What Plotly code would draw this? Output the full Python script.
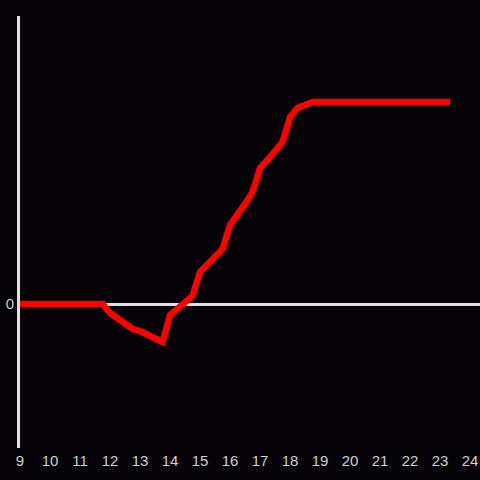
import plotly.graph_objects as go

hours = [9.0, 11.75, 12.0, 12.25, 12.5, 12.75, 13.0, 13.25, 13.5, 13.75, 14.0, 14.25, 14.5, 14.75,
         15.0, 15.25, 15.5, 15.75, 16.0, 16.25, 16.5, 16.75, 17.0, 17.25, 17.5, 17.75,
         18.0, 18.25, 18.5, 18.75, 23.33]
values = [0, 0, -9, -14.5, -20, -25, -27, -31, -34.5, -38, -11, -4.5, 2, 8,
          32, 39, 47, 55, 79, 89, 100, 112, 136, 144, 153, 162,
          187, 196, 199, 202, 202]
x_ticks = list(range(9, 25))

fig = go.Figure()
fig.add_trace(go.Scatter(x=hours, y=values, mode="lines",
                         line=dict(color="#ff0000", width=6.5), hoverinfo="skip"))

bg = "#050307"
fig.update_layout(
    width=480, height=480,
    margin=dict(l=20, r=0, t=16, b=32),
    paper_bgcolor=bg, plot_bgcolor=bg,
    showlegend=False,
    font=dict(family="Liberation Sans, Arial, sans-serif", size=15, color="#d0d0d0"),
    xaxis=dict(range=[9, 24.33], tickvals=x_ticks, ticktext=[str(t) for t in x_ticks],
               showgrid=False, zeroline=False, showline=False, ticks="",
               ticklabelstandoff=2),
    yaxis=dict(range=[-144, 288], tickvals=[0], ticktext=["0"], showgrid=False,
               zeroline=True, zerolinecolor="#e0e0e0", zerolinewidth=3,
               showline=True, linecolor="#e0e0e0", linewidth=3, ticks=""),
)
fig.write_html("out.html", config={"displayModeBar": False},
               post_script="document.body.style.margin='0';document.body.style.background='#050307';")
